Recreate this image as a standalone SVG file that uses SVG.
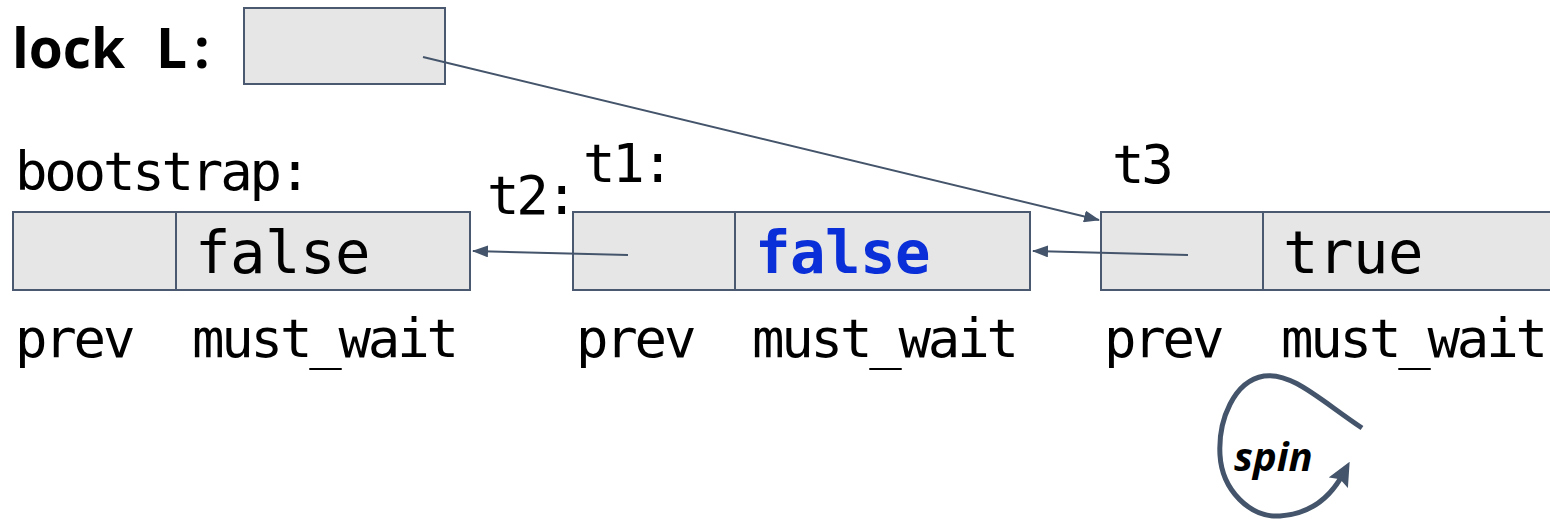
<svg xmlns="http://www.w3.org/2000/svg" width="1550" height="523" viewBox="0 0 1550 523">
<style>
.box{fill:#e6e6e6;stroke:#4a5870;stroke-width:2}
.div{stroke:#4a5870;stroke-width:2}
.mono{font-family:"DejaVu Sans Mono","Liberation Mono",monospace;font-size:54px;letter-spacing:-3.2px;fill:#000}
.val{font-family:"DejaVu Sans Mono","Liberation Mono",monospace;font-size:59px;letter-spacing:-0.5px;fill:#000}
.blue{fill:#0a2ed8;font-weight:bold}
.conn{stroke:#44546a;stroke-width:2;fill:none}
.bold{font-family:"Open Sans","Noto Sans",sans-serif;font-weight:bold;font-size:55px}
</style>
<defs>
<marker id="ah" viewBox="0 0 16 12" refX="15" refY="6" markerWidth="16" markerHeight="12" markerUnits="userSpaceOnUse" orient="auto">
<path d="M0,0 L16,6 L0,12 z" fill="#44546a"/>
</marker>
<marker id="ah2" viewBox="0 0 24 22" refX="10" refY="11" markerWidth="24" markerHeight="22" markerUnits="userSpaceOnUse" orient="auto">
<path d="M0,0 L24,11 L0,22 L4,11 z" fill="#44546a"/>
</marker>
</defs>
<g id="lock">
<text class="bold" x="12" y="68">lock</text>
<text class="bold" x="156" y="68">L</text>
<text class="bold" x="194" y="68">:</text>
<rect class="box" x="244" y="8" width="201" height="76"/>
</g>
<g id="bootstrap">
<text class="mono" x="15" y="190">bootstrap:</text>
<rect class="box" x="13" y="212" width="457" height="78"/>
<line class="div" x1="176" y1="212" x2="176" y2="290"/>
<text class="val" x="195" y="273">false</text>
<text class="mono" x="15" y="357">prev</text>
<text class="mono" x="192" y="357">must_wait</text>
</g>
<g id="t1">
<text class="mono" x="583" y="182">t1:</text>
<text class="mono" x="487" y="214">t2:</text>
<rect class="box" x="573" y="212" width="457" height="78"/>
<line class="div" x1="735" y1="212" x2="735" y2="290"/>
<text class="val blue" x="755" y="273">false</text>
<text class="mono" x="576" y="357">prev</text>
<text class="mono" x="752" y="357">must_wait</text>
</g>
<g id="t3">
<text class="mono" x="1112" y="183">t3</text>
<rect class="box" x="1101" y="212" width="460" height="78"/>
<line class="div" x1="1263" y1="212" x2="1263" y2="290"/>
<text class="val" x="1283" y="273">true</text>
<text class="mono" x="1104" y="357">prev</text>
<text class="mono" x="1281" y="357">must_wait</text>
<text x="1234" y="471" font-family="'Open Sans','Noto Sans',sans-serif" font-weight="bold" font-style="italic" font-size="40">spin</text>
</g>
<g id="connectors">
<line class="conn" x1="423" y1="57" x2="1099" y2="220" marker-end="url(#ah)"/>
<line class="conn" x1="628" y1="255" x2="473" y2="251" marker-end="url(#ah)"/>
<line class="conn" x1="1188" y1="255" x2="1033" y2="251" marker-end="url(#ah)"/>
<path d="M1362,428 C1320,400 1292,372 1264,376 C1234,381 1218,420 1220,455 C1222,490 1250,518 1280,516 C1310,514 1330,498 1343,474" fill="none" stroke="#44546a" stroke-width="5" marker-end="url(#ah2)"/>
</g>
</svg>
